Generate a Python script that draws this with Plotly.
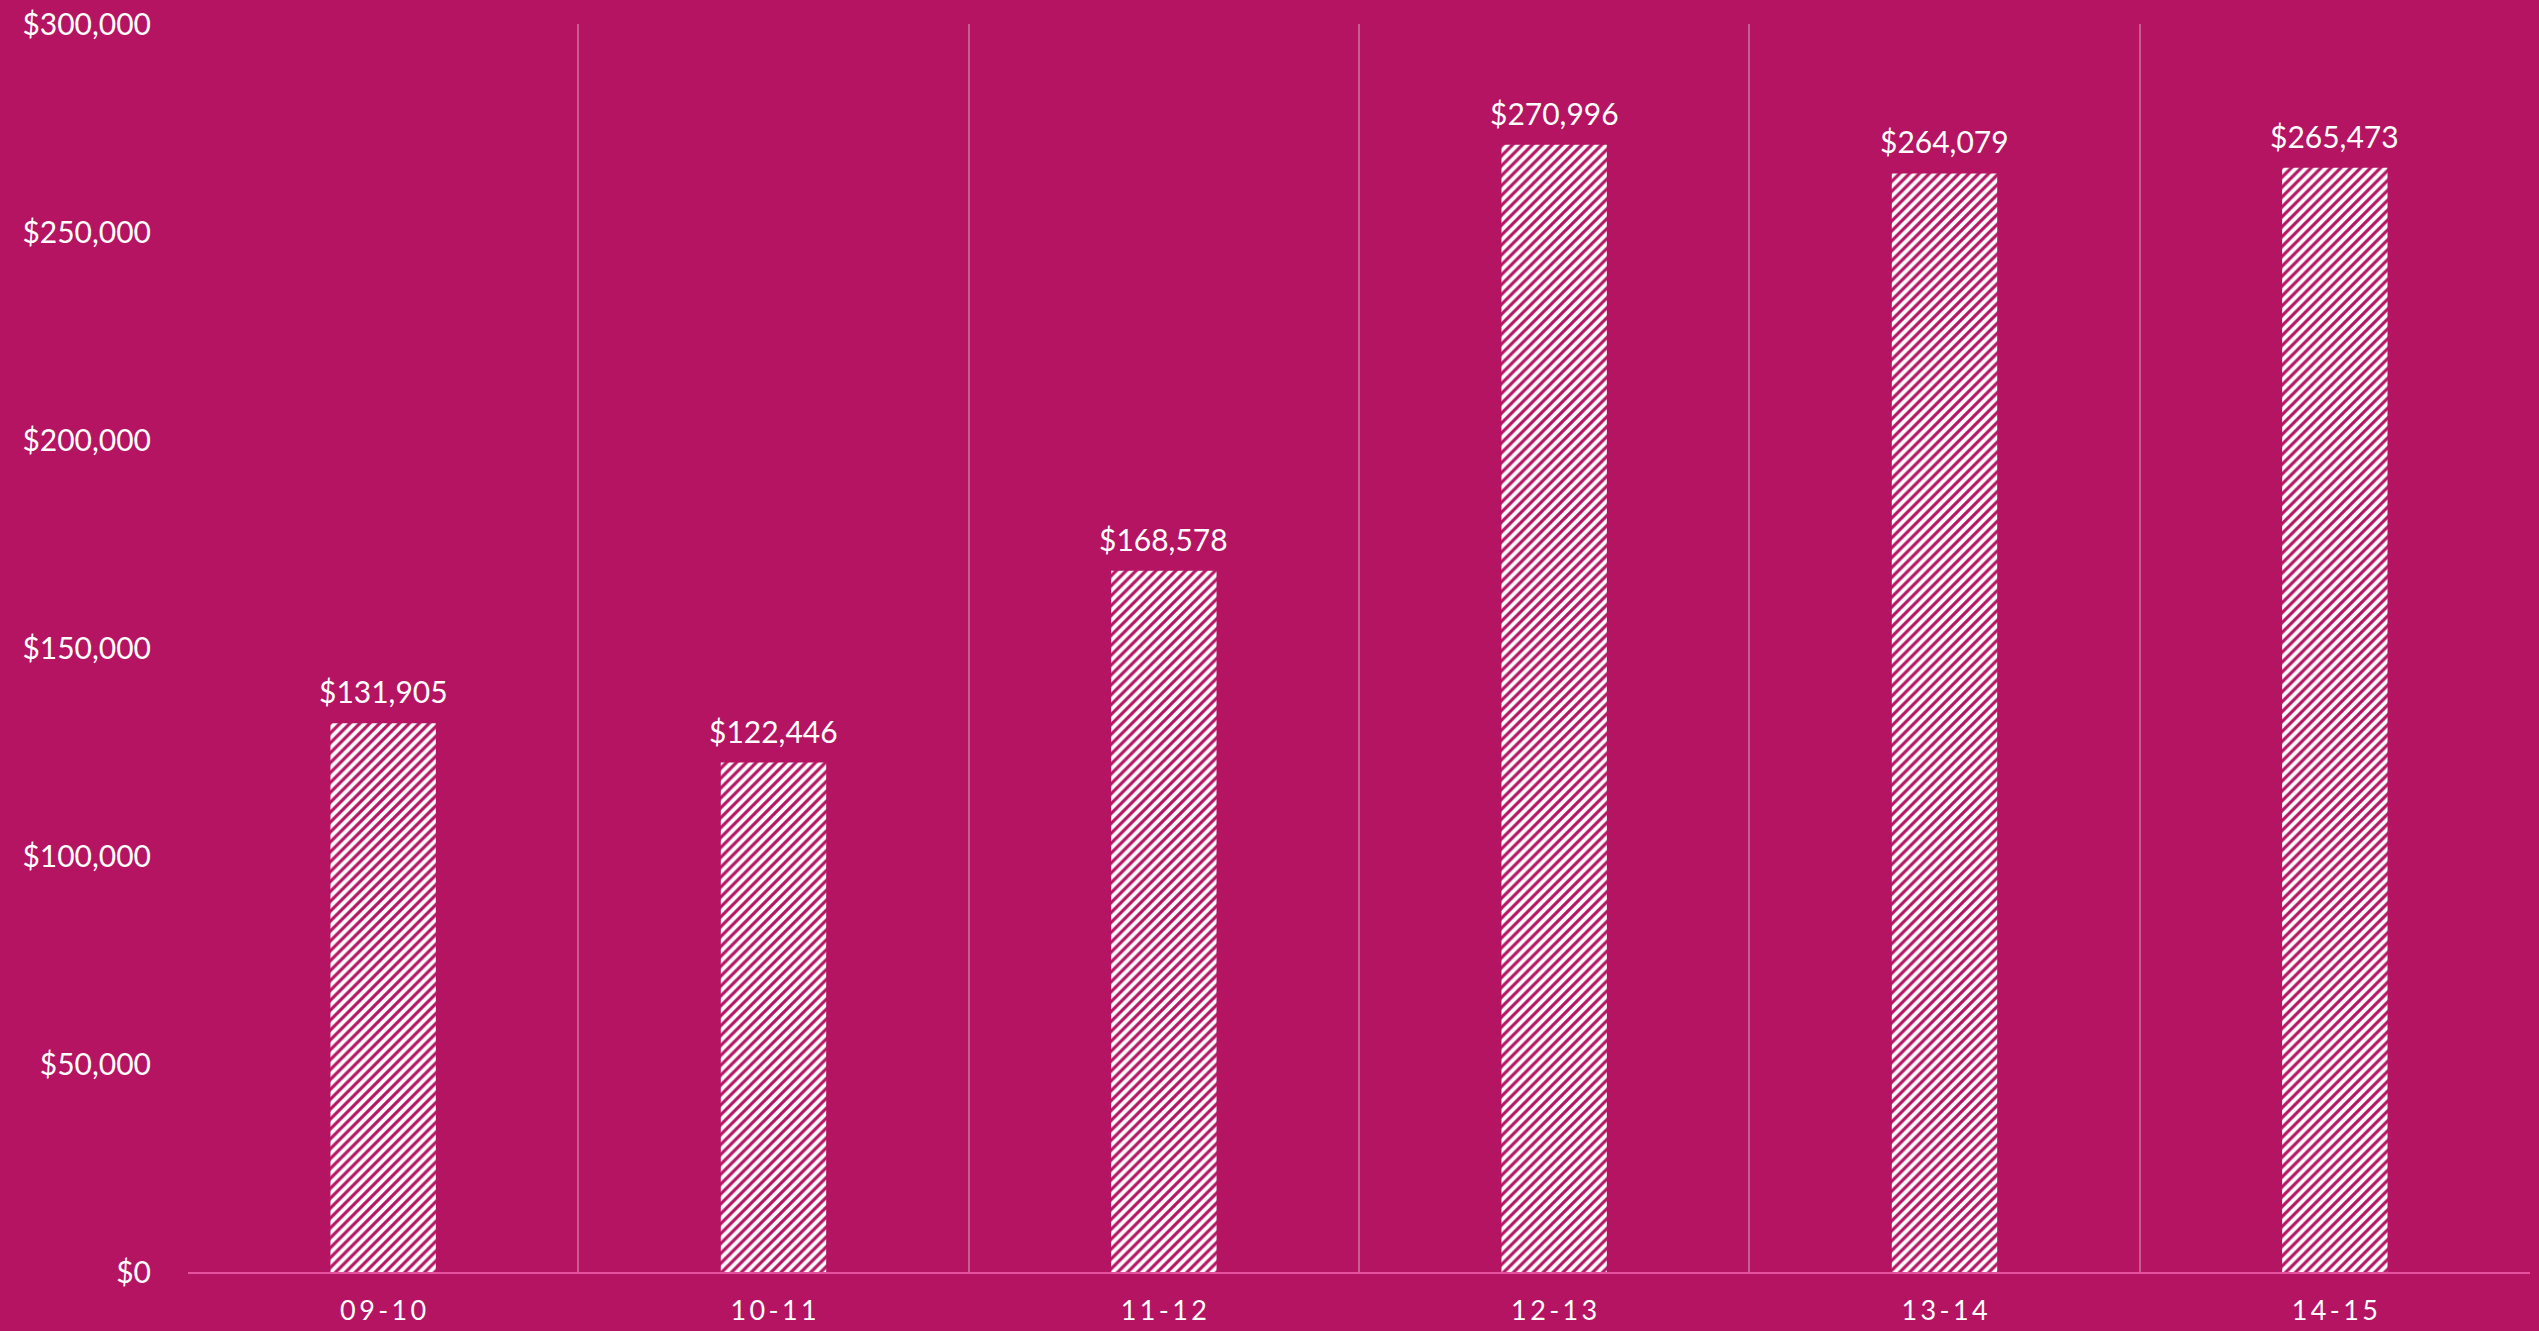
import plotly.graph_objects as go

# Fiscal years and annual totals
years = ["09-10", "10-11", "11-12", "12-13", "13-14", "14-15"]
totals = [131905, 122446, 168578, 270996, 264079, 265473]
y_ticks = [0, 50000, 100000, 150000, 200000, 250000, 300000]

BG = "#B41462"
FONT = "Lato"

# letter-spaced category labels
spaced = ["\u2009".join(list(y)) for y in years]

fig = go.Figure(
    go.Bar(
        x=years,
        y=totals,
        width=0.27,
        marker=dict(
            color="white",
            line=dict(width=0),
            pattern=dict(shape="/", bgcolor="white", fgcolor=BG, fgopacity=1,
                         size=7, solidity=0.45, fillmode="overlay"),
        ),
        hoverinfo="skip",
    )
)

# value labels above each bar
for yr, v in zip(years, totals):
    fig.add_annotation(
        x=yr, y=v, text=f"${v:,}", showarrow=False,
        yanchor="middle", yshift=32,
        font=dict(family=FONT, size=30, color="white"),
    )

fig.update_layout(
    width=2539,
    height=1331,
    paper_bgcolor=BG,
    plot_bgcolor=BG,
    margin=dict(l=188, r=9, t=24, b=59, autoexpand=False),
    showlegend=False,
    font=dict(family=FONT, color="white"),
    bargap=0.73,
)

fig.update_xaxes(
    type="category",
    tickvals=years,
    ticktext=spaced,
    tickson="boundaries",
    showgrid=True,
    gridcolor="rgba(255,255,255,0.3)",
    gridwidth=1.5,
    ticks="",
    showline=True,
    linecolor="#E5509F",
    linewidth=2,
    automargin=False,
    tickfont=dict(family=FONT, size=27, color="white"),
    ticklabelstandoff=14,
)

fig.update_yaxes(
    range=[0, 300000],
    tickvals=y_ticks,
    ticktext=[f"${v:,}" for v in y_ticks],
    showgrid=False,
    zeroline=False,
    showline=False,
    ticks="",
    automargin=False,
    tickfont=dict(family=FONT, size=30, color="white"),
    ticklabelstandoff=36,
)

fig.write_html("out.html")
